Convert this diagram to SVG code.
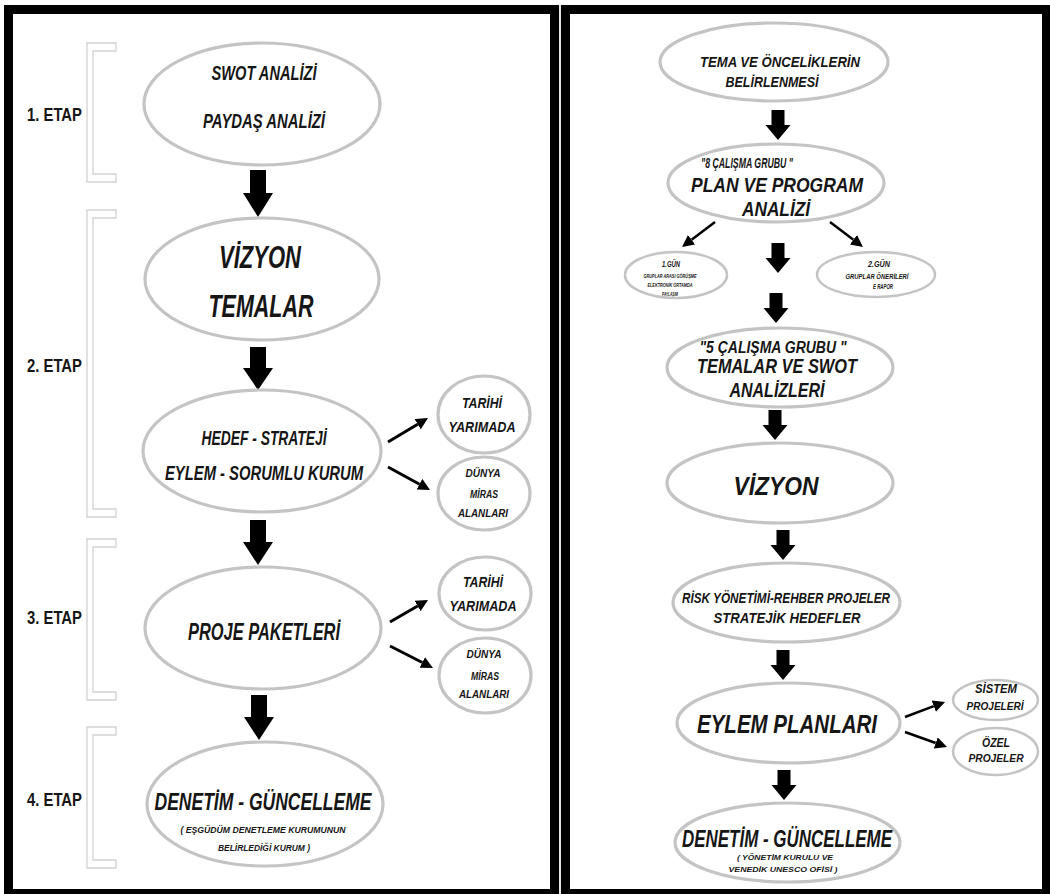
<svg xmlns="http://www.w3.org/2000/svg" width="1050" height="894" viewBox="0 0 1050 894">
<style>
.panel{fill:none;stroke:#000;stroke-width:9}
.br{fill:#fff;stroke:#d2d2d2;stroke-width:1.3}
.el{fill:#fff;stroke:#c4c4c4;stroke-width:3.2}
.t{font-family:"Liberation Sans",Arial,sans-serif;font-weight:bold;font-style:italic;fill:#161616;text-anchor:middle}
.et{font-family:"Liberation Sans",Arial,sans-serif;font-weight:bold;fill:#161616}
.big{fill:#000}
.thin{stroke:#000;stroke-width:3;fill:none}
.thin2{stroke:#000;stroke-width:2.5;fill:none}
</style>
<defs>
<marker id="ah" markerUnits="userSpaceOnUse" viewBox="0 0 12 12" markerWidth="12" markerHeight="12" refX="0" refY="6" orient="auto">
<path d="M0,0 L12,6 L0,12 z" fill="#000"/>
</marker>
</defs>
<rect width="1050" height="894" fill="#fff"/>
<g id="panels">
<rect class="panel" x="8.5" y="9.5" width="546" height="884"/>
<rect class="panel" x="565.5" y="9.5" width="481" height="884"/>
<line x1="560" y1="5" x2="560" y2="894" stroke="#c8c8c8" stroke-width="1"/>
</g>
<g id="stages">
<path class="br" d="M116,43 H87 V182 H116 V174 H93 V51 H116 Z"/>
<path class="br" d="M116,210 H87 V517 H116 V509 H93 V218 H116 Z"/>
<path class="br" d="M116,539 H87 V700 H116 V692 H93 V547 H116 Z"/>
<path class="br" d="M116,727 H87 V868 H116 V860 H93 V735 H116 Z"/>
<text class="et" x="27" y="121" font-size="19" textLength="55" lengthAdjust="spacingAndGlyphs">1. ETAP</text>
<text class="et" x="27" y="372" font-size="19" textLength="55" lengthAdjust="spacingAndGlyphs">2. ETAP</text>
<text class="et" x="27" y="624" font-size="19" textLength="55" lengthAdjust="spacingAndGlyphs">3. ETAP</text>
<text class="et" x="27" y="806" font-size="19" textLength="55" lengthAdjust="spacingAndGlyphs">4. ETAP</text>
</g>
<g id="connectors">
<polygon class="big" points="250,170 266,170 266,193 273,193 258,217 243,193 250,193"/>
<polygon class="big" points="250,347 266,347 266,368 273,368 258,390 243,368 250,368"/>
<polygon class="big" points="250,520 266,520 266,542 273,542 258,565 243,542 250,542"/>
<polygon class="big" points="251,695 267,695 267,717 274,717 259,740 244,717 251,717"/>
<line class="thin" x1="388" y1="442" x2="417.7" y2="424.2" marker-end="url(#ah)"/>
<line class="thin" x1="388" y1="467" x2="419.5" y2="484.2" marker-end="url(#ah)"/>
<line class="thin" x1="390" y1="622" x2="417.6" y2="606" marker-end="url(#ah)"/>
<line class="thin" x1="390" y1="646" x2="422.3" y2="662.5" marker-end="url(#ah)"/>
<polygon class="big" points="771.5,110 784.5,110 784.5,125 790.5,125 778,140 765.5,125 771.5,125"/>
<polygon class="big" points="771.5,243 784.5,243 784.5,258 790.5,258 778,273 765.5,258 771.5,258"/>
<polygon class="big" points="769.5,293 782.5,293 782.5,308 788.5,308 776,323 763.5,308 769.5,308"/>
<polygon class="big" points="768.5,410 781.5,410 781.5,425 787.5,425 775,440 762.5,425 768.5,425"/>
<polygon class="big" points="776.5,530 789.5,530 789.5,545 795.5,545 783,560 770.5,545 776.5,545"/>
<polygon class="big" points="776.5,650 789.5,650 789.5,665 795.5,665 783,680 770.5,665 776.5,665"/>
<polygon class="big" points="777.5,770 790.5,770 790.5,785 796.5,785 784,800 771.5,785 777.5,785"/>
<line class="thin2" x1="715" y1="222" x2="691.6" y2="239.8" marker-end="url(#ah)"/>
<line class="thin2" x1="830" y1="222" x2="853.4" y2="239.8" marker-end="url(#ah)"/>
<line class="thin2" x1="905" y1="717" x2="933.8" y2="706.2" marker-end="url(#ah)"/>
<line class="thin2" x1="905" y1="732" x2="935.7" y2="743" marker-end="url(#ah)"/>
</g>
<g id="n-swot">
<ellipse class="el" cx="262" cy="104" rx="118" ry="61"/>
<text class="t" x="264" y="80" font-size="20" textLength="105" lengthAdjust="spacingAndGlyphs">SWOT ANALİZİ</text>
<text class="t" x="264" y="128" font-size="20" textLength="122" lengthAdjust="spacingAndGlyphs">PAYDAŞ ANALİZİ</text>
</g>
<g id="n-vizyon-temalar">
<ellipse class="el" cx="262" cy="279" rx="117" ry="61"/>
<text class="t" x="260" y="268" font-size="32" textLength="82" lengthAdjust="spacingAndGlyphs">VİZYON</text>
<text class="t" x="261" y="317" font-size="32" textLength="105" lengthAdjust="spacingAndGlyphs">TEMALAR</text>
</g>
<g id="n-hedef">
<ellipse class="el" cx="262" cy="451" rx="119" ry="61"/>
<text class="t" x="264" y="445" font-size="20" textLength="125" lengthAdjust="spacingAndGlyphs">HEDEF - STRATEJİ</text>
<text class="t" x="264" y="480" font-size="20" textLength="198" lengthAdjust="spacingAndGlyphs">EYLEM - SORUMLU KURUM</text>
</g>
<g id="n-tarihi1">
<ellipse class="el" cx="484" cy="414.5" rx="46" ry="38.5"/>
<text class="t" x="482" y="408" font-size="14" textLength="40" lengthAdjust="spacingAndGlyphs">TARİHİ</text>
<text class="t" x="482" y="432" font-size="14" textLength="67" lengthAdjust="spacingAndGlyphs">YARIMADA</text>
</g>
<g id="n-dunya1">
<ellipse class="el" cx="484" cy="493.5" rx="46" ry="36.5"/>
<text class="t" x="483" y="477" font-size="11" textLength="35" lengthAdjust="spacingAndGlyphs">DÜNYA</text>
<text class="t" x="484" y="498" font-size="11" textLength="28" lengthAdjust="spacingAndGlyphs">MİRAS</text>
<text class="t" x="483" y="517" font-size="11" textLength="50" lengthAdjust="spacingAndGlyphs">ALANLARI</text>
</g>
<g id="n-proje">
<ellipse class="el" cx="263" cy="628" rx="118" ry="61"/>
<text class="t" x="264" y="640" font-size="24" textLength="152" lengthAdjust="spacingAndGlyphs">PROJE PAKETLERİ</text>
</g>
<g id="n-tarihi2">
<ellipse class="el" cx="485" cy="593.5" rx="46" ry="36.5"/>
<text class="t" x="483" y="587" font-size="14" textLength="40" lengthAdjust="spacingAndGlyphs">TARİHİ</text>
<text class="t" x="483" y="611" font-size="14" textLength="67" lengthAdjust="spacingAndGlyphs">YARIMADA</text>
</g>
<g id="n-dunya2">
<ellipse class="el" cx="485" cy="675.5" rx="46" ry="37.5"/>
<text class="t" x="484" y="658" font-size="11" textLength="35" lengthAdjust="spacingAndGlyphs">DÜNYA</text>
<text class="t" x="485" y="680" font-size="11" textLength="28" lengthAdjust="spacingAndGlyphs">MİRAS</text>
<text class="t" x="484" y="698" font-size="11" textLength="50" lengthAdjust="spacingAndGlyphs">ALANLARI</text>
</g>
<g id="n-denetim1">
<ellipse class="el" cx="265" cy="804" rx="118" ry="62"/>
<text class="t" x="263" y="810" font-size="24" textLength="217" lengthAdjust="spacingAndGlyphs">DENETİM - GÜNCELLEME</text>
<text class="t" x="263" y="833" font-size="9.5" textLength="165" lengthAdjust="spacingAndGlyphs">( EŞGÜDÜM DENETLEME KURUMUNUN</text>
<text class="t" x="264" y="851" font-size="9.5" textLength="92" lengthAdjust="spacingAndGlyphs">BELİRLEDİĞİ KURUM )</text>
</g>
<g id="n-tema">
<ellipse class="el" cx="774" cy="62" rx="114" ry="39"/>
<text class="t" x="780" y="67" font-size="15" textLength="160" lengthAdjust="spacingAndGlyphs">TEMA VE ÖNCELİKLERİN</text>
<text class="t" x="772" y="87" font-size="15" textLength="93" lengthAdjust="spacingAndGlyphs">BELİRLENMESİ</text>
</g>
<g id="n-8grup">
<ellipse class="el" cx="776" cy="183" rx="108" ry="39"/>
<text class="t" x="747" y="168" font-size="15" textLength="92" lengthAdjust="spacingAndGlyphs">"8 ÇALIŞMA GRUBU "</text>
<text class="t" x="777" y="192" font-size="21" textLength="172" lengthAdjust="spacingAndGlyphs">PLAN VE PROGRAM</text>
<text class="t" x="776" y="216" font-size="21" textLength="68" lengthAdjust="spacingAndGlyphs">ANALİZİ</text>
</g>
<g id="n-gun1">
<ellipse class="el" cx="676" cy="275" rx="51" ry="23" style="stroke-width:2.5"/>
<text class="t" x="671" y="267" font-size="8.5" textLength="18" lengthAdjust="spacingAndGlyphs">1.GÜN</text>
<text class="t" x="670" y="278" font-size="6" textLength="53" lengthAdjust="spacingAndGlyphs">GRUPLAR ARASI GÖRÜŞME</text>
<text class="t" x="670" y="287" font-size="6" textLength="45" lengthAdjust="spacingAndGlyphs">ELEKTRONİK ORTAMDA</text>
<text class="t" x="670" y="296" font-size="5.5" textLength="16" lengthAdjust="spacingAndGlyphs">PAYLAŞIM</text>
</g>
<g id="n-gun2">
<ellipse class="el" cx="876" cy="274.5" rx="59" ry="22.5" style="stroke-width:2.5"/>
<text class="t" x="879" y="267" font-size="8.5" textLength="22" lengthAdjust="spacingAndGlyphs">2.GÜN</text>
<text class="t" x="877" y="279" font-size="6.5" textLength="63" lengthAdjust="spacingAndGlyphs">GRUPLAR ÖNERİLERİ</text>
<text class="t" x="883" y="289" font-size="6.5" textLength="20" lengthAdjust="spacingAndGlyphs">E RAPOR</text>
</g>
<g id="n-5grup">
<ellipse class="el" cx="780" cy="367.5" rx="113" ry="39.5"/>
<text class="t" x="773" y="353" font-size="16" textLength="147" lengthAdjust="spacingAndGlyphs">"5 ÇALIŞMA GRUBU "</text>
<text class="t" x="777" y="373" font-size="20" textLength="160" lengthAdjust="spacingAndGlyphs">TEMALAR VE SWOT</text>
<text class="t" x="777" y="397" font-size="20" textLength="95" lengthAdjust="spacingAndGlyphs">ANALİZLERİ</text>
</g>
<g id="n-vizyon2">
<ellipse class="el" cx="780" cy="483" rx="113" ry="40"/>
<text class="t" x="776" y="495" font-size="26" textLength="85" lengthAdjust="spacingAndGlyphs">VİZYON</text>
</g>
<g id="n-risk">
<ellipse class="el" cx="786.5" cy="602.5" rx="113.5" ry="39.5"/>
<text class="t" x="786" y="603" font-size="15" textLength="208" lengthAdjust="spacingAndGlyphs">RİSK YÖNETİMİ-REHBER PROJELER</text>
<text class="t" x="787" y="623" font-size="15" textLength="147" lengthAdjust="spacingAndGlyphs">STRATEJİK HEDEFLER</text>
</g>
<g id="n-eylem">
<ellipse class="el" cx="788.5" cy="723" rx="111.5" ry="40"/>
<text class="t" x="787" y="733" font-size="26" textLength="180" lengthAdjust="spacingAndGlyphs">EYLEM PLANLARI</text>
</g>
<g id="n-sistem">
<ellipse class="el" cx="995.5" cy="700" rx="42.5" ry="20" style="stroke-width:2.5"/>
<text class="t" x="996" y="693" font-size="12" textLength="42" lengthAdjust="spacingAndGlyphs">SİSTEM</text>
<text class="t" x="995" y="710" font-size="11" textLength="57" lengthAdjust="spacingAndGlyphs">PROJELERİ</text>
</g>
<g id="n-ozel">
<ellipse class="el" cx="995.5" cy="751.5" rx="42.5" ry="23.5" style="stroke-width:2.5"/>
<text class="t" x="996" y="747" font-size="12" textLength="28" lengthAdjust="spacingAndGlyphs">ÖZEL</text>
<text class="t" x="996" y="762" font-size="11" textLength="55" lengthAdjust="spacingAndGlyphs">PROJELER</text>
</g>
<g id="n-denetim2">
<ellipse class="el" cx="787.5" cy="842.5" rx="112.5" ry="39.5"/>
<text class="t" x="787" y="847" font-size="23" textLength="210" lengthAdjust="spacingAndGlyphs">DENETİM - GÜNCELLEME</text>
<text class="t" x="785" y="860" font-size="8" textLength="96" lengthAdjust="spacingAndGlyphs">( YÖNETİM KURULU VE</text>
<text class="t" x="783" y="872" font-size="8" textLength="109" lengthAdjust="spacingAndGlyphs">VENEDİK UNESCO OFİSİ )</text>
</g>
</svg>
